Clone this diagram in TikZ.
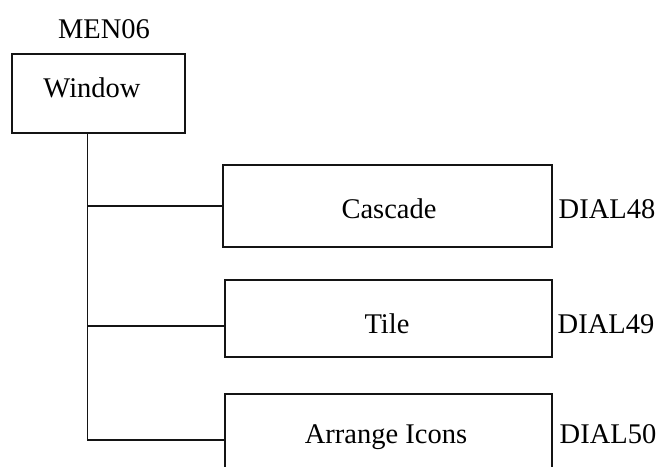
\documentclass[tikz,border=0pt]{standalone}
\usepackage{fontspec}
\setmainfont{Liberation Serif}
\usetikzlibrary{positioning, calc}
\definecolor{linecolor}{RGB}{20, 20, 20}

\tikzset{
    menubox/.style={draw=linecolor, line width=1.4pt, rectangle, inner sep=0pt},
    menutext/.style={font=\fontsize{28.5}{34}\selectfont, inner sep=0pt, anchor=base},
    branch/.style={draw=linecolor, line width=1.4pt}
}

\begin{document}
\begin{tikzpicture}[x=1pt, y=-1pt, every node/.style={align=center}]
        \useasboundingbox (0, 0) rectangle (668, 466);

        % Menu box
        \node[menutext] (menlabel) at (104, 38) {MEN06};
        \node[menubox, minimum width=173pt, minimum height=79pt] (win) at (98.5, 93.5) {};
        \node[menutext] (wintext) at (92, 97) {Window};

        % Dialog boxes
        \node[menubox, minimum width=329pt, minimum height=82pt] (cascade) at (387.5, 206) {};
        \node[menutext] (cascadetext) at (389, 218) {Cascade};
        \node[menutext] (dial48) at (607, 218) {DIAL48};

        \node[menubox, minimum width=327pt, minimum height=77pt] (tile) at (388.5, 318.5) {};
        \node[menutext] (tiletext) at (387, 333) {Tile};
        \node[menutext] (dial49) at (606, 333) {DIAL49};

        \node[menubox, minimum width=327pt, minimum height=80pt] (arrange) at (388.5, 434) {};
        \node[menutext] (arrangetext) at (386, 443) {Arrange Icons};
        \node[menutext] (dial50) at (608, 443) {DIAL50};

        % Connections
        \coordinate (trunk) at ($(win.south west)+(76, 0)$);
        \draw[branch] (trunk) |- (cascade.west);
        \draw[branch] (trunk) |- ([yshift=-7.5pt]tile.west);
        \draw[branch] (trunk) |- ([yshift=-6pt]arrange.west);

    \end{tikzpicture}
\end{document}
